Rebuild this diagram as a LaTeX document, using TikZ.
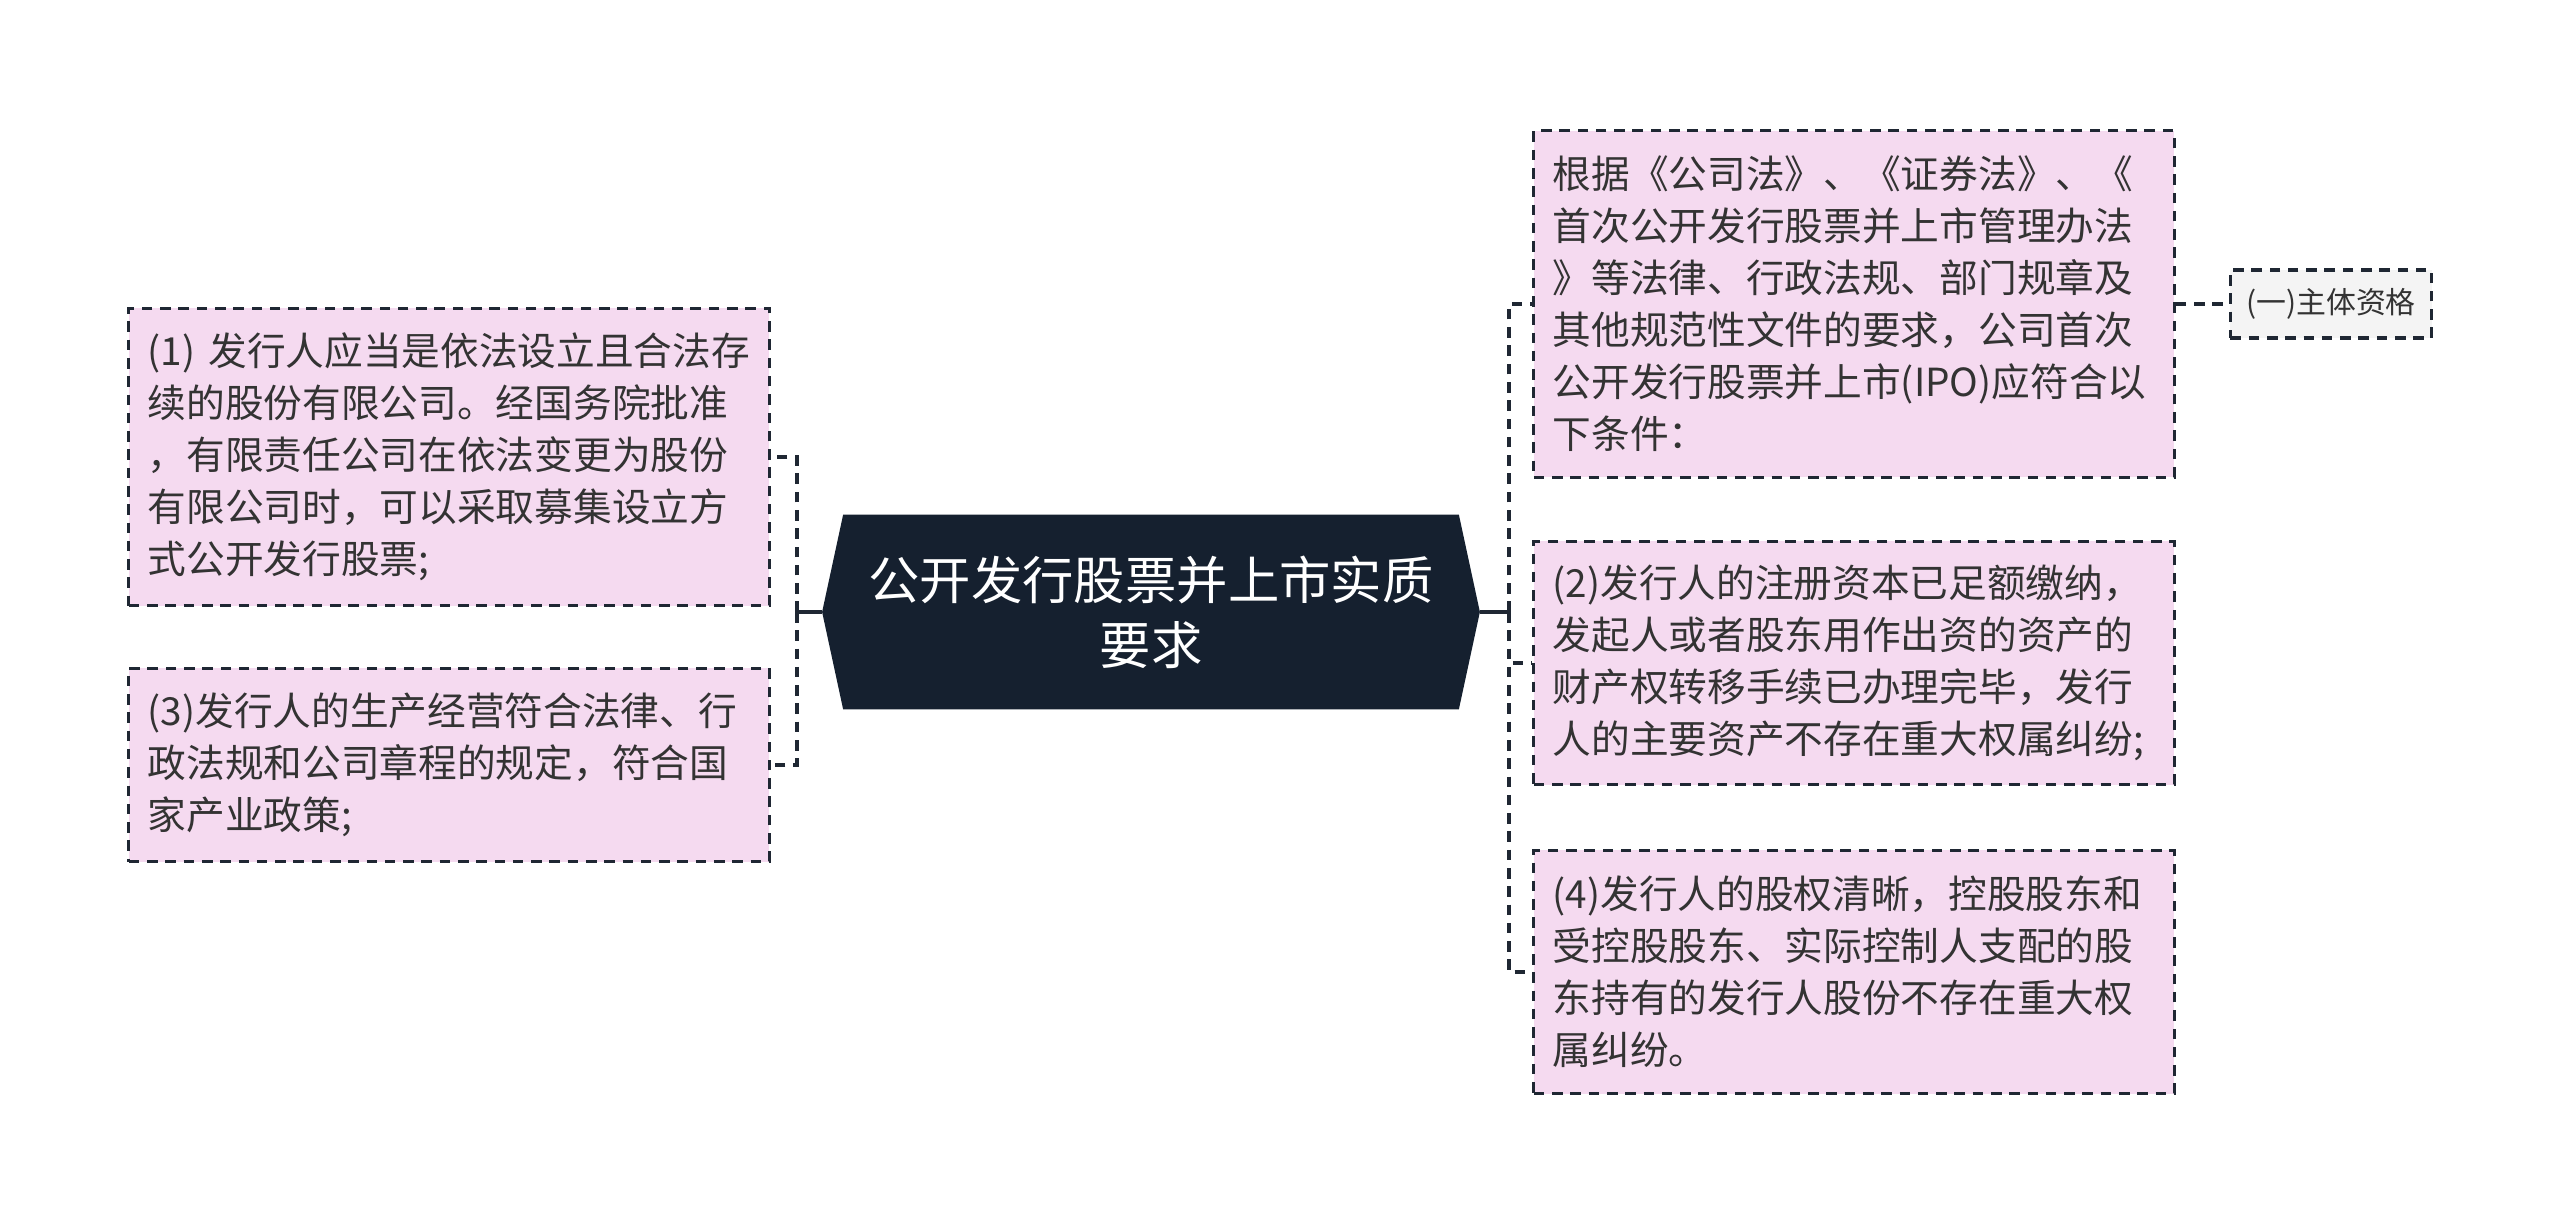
\documentclass[tikz,border=0pt]{standalone}
\usepackage{fontspec}
\setmainfont{Noto Sans CJK SC}
\usetikzlibrary{positioning, calc, backgrounds}
\definecolor{mapNavy}{HTML}{15202F}
\definecolor{mapPink}{HTML}{F5DAF0}
\definecolor{mapGray}{HTML}{F4F4F4}
\definecolor{lineDark}{HTML}{1F2733}
\definecolor{textDark}{HTML}{333333}

\begin{document}
\begin{tikzpicture}[x=0.01cm, y=-0.01cm,
    hub/.style={rectangle, minimum width=6.14cm, minimum height=1.93cm, inner sep=0pt,
      align=center, font=\fontsize{14.6}{18.5}\selectfont, text=white},
    item/.style={rectangle, fill=mapPink, draw=lineDark, dash pattern=on 3pt off 2.2pt,
      line width=0.9pt, text width=6.02cm, inner xsep=0.19cm, inner ysep=0pt,
      align=left, font=\fontsize{11}{14.8}\selectfont, text=textDark},
    tag/.style={rectangle, fill=mapGray, draw=lineDark, dash pattern=on 3pt off 2.2pt,
      line width=0.9pt, minimum width=2.01cm, minimum height=0.68cm, inner sep=0pt,
      font=\fontsize{8.5}{10}\selectfont, text=textDark},
    ln/.style={draw=lineDark, line width=1.2pt, dash pattern=on 3pt off 2.2pt},
    trunk/.style={draw=lineDark, line width=1.2pt}]
    \useasboundingbox (0,0) rectangle (2560,1225);
    \node[hub] (root) at (1151,612) {公开发行股票并上市实质\\要求};
    \coordinate (hubL) at ($(root.west)+(-21,0)$);
    \coordinate (hubR) at ($(root.east)+(21,0)$);
    \begin{scope}[on background layer]
      \fill[white] (0,0) rectangle (2560,1225);
      \fill[mapNavy] (hubL) -- (root.north west) -- (root.north east) -- (hubR)
        -- (root.south east) -- (root.south west) -- cycle;
    \end{scope}
    \node[item, minimum height=2.97cm] (q1) at (449,457)
      {(1)~发行人应当是依法设立且合法存\\续的股份有限公司。经国务院批准\\，有限责任公司在依法变更为股份\\有限公司时，可以采取募集设立方\\式公开发行股票;};
    \node[item, minimum height=1.93cm] (q3) at (449,765)
      {(3)发行人的生产经营符合法律、行\\政法规和公司章程的规定，符合国\\家产业政策;};
    \node[item, minimum height=3.46cm] (qa) at (1854,304)
      {根据《公司法》、《证券法》、《\\首次公开发行股票并上市管理办法\\》等法律、行政法规、部门规章及\\其他规范性文件的要求，公司首次\\公开发行股票并上市(IPO)应符合以\\下条件：};
    \node[item, minimum height=2.43cm] (q2) at (1854,663)
      {(2)发行人的注册资本已足额缴纳，\\发起人或者股东用作出资的资产的\\财产权转移手续已办理完毕，发行\\人的主要资产不存在重大权属纠纷;};
    \node[item, minimum height=2.43cm] (q4) at (1854,972)
      {(4)发行人的股权清晰，控股股东和\\受控股股东、实际控制人支配的股\\东持有的发行人股份不存在重大权\\属纠纷。};
    \node[tag] (sub) at (2331,304) {(一)主体资格};
    \coordinate (jl) at (797,612);
    \coordinate (jr) at (1509,612);
    \draw[trunk] (hubL) -- (jl);
    \draw[trunk] (hubR) -- (jr);
    \draw[ln] (jl) |- (q1.east);
    \draw[ln] (jl) |- (q3.east);
    \draw[ln] (jr) |- (qa.west);
    \draw[ln] (jr) |- (q2.west);
    \draw[ln] (jr) |- (q4.west);
    \draw[ln] (qa.east) -- (sub.west);
  \end{tikzpicture}
\end{document}
